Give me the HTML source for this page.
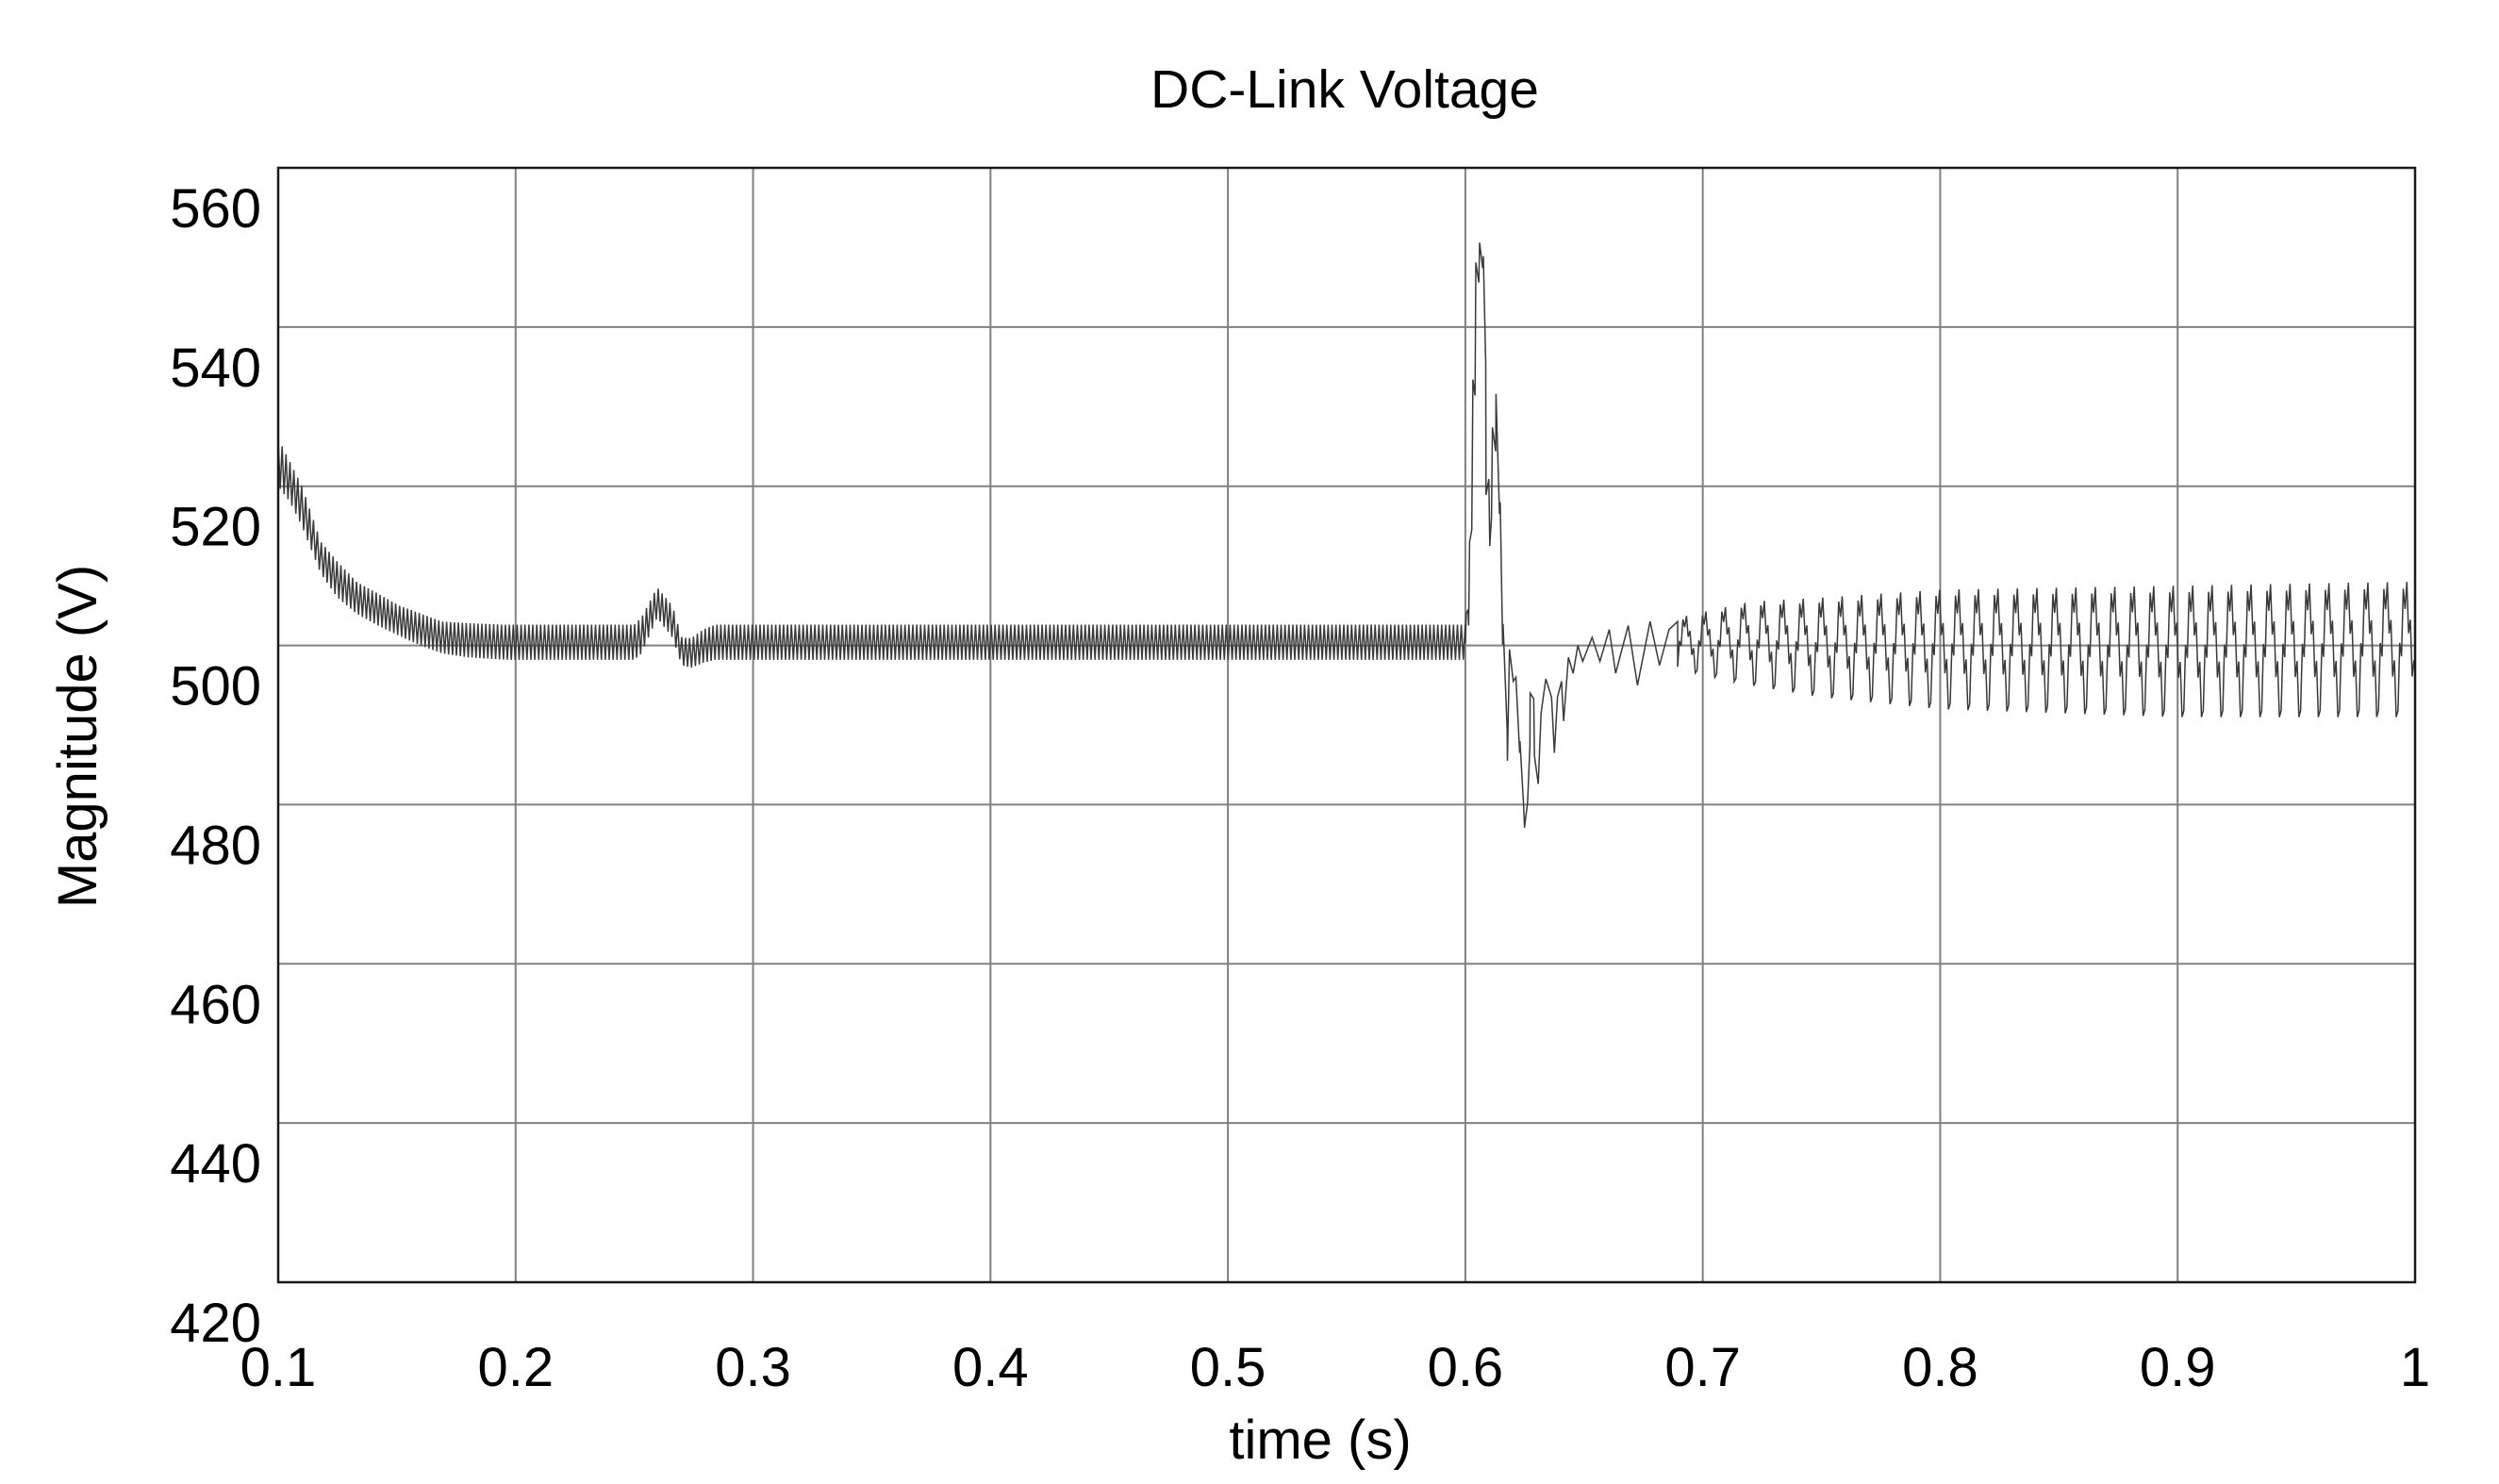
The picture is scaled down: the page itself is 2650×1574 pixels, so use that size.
<!DOCTYPE html>
<html>
<head>
<meta charset="utf-8">
<style>
  html,body{margin:0;padding:0;background:#fff;}
  svg{display:block;}
  text{font-family:"Liberation Sans",Arial,sans-serif;fill:#000;}
</style>
</head>
<body>
<svg id="chart" width="2650" height="1574" viewBox="0 0 2650 1574" xmlns="http://www.w3.org/2000/svg">
  <rect x="0" y="0" width="2650" height="1574" fill="#fff"/>
  <g id="grid"></g>
  <g id="series"></g>
  <rect x="295" y="178" width="2266" height="1182" fill="none" stroke="#1a1a1a" stroke-width="2.5"/>
  <g id="ticks"></g>
  <text x="1426" y="114" font-size="57" text-anchor="middle">DC-Link Voltage</text>
  <text x="1400" y="1547" font-size="58" text-anchor="middle">time (s)</text>
  <text x="0" y="0" font-size="58" text-anchor="middle" transform="translate(102,781) rotate(-90)">Magnitude (V)</text>
</svg>
<script>
// ---- data ----
const xTicks = [0.1,0.2,0.3,0.4,0.5,0.6,0.7,0.8,0.9,1];
const xTickLabels = ["0.1","0.2","0.3","0.4","0.5","0.6","0.7","0.8","0.9","1"];
const yTicks = [420,440,460,480,500,520,540,560];
const yTickLabels = ["420","440","460","480","500","520","540","560"];

// ripple envelope before the step (0.1 - 0.6 s)
const rippleTimes = [0.100,0.105,0.110,0.118,0.125,0.133,0.142,0.151,0.160,0.169,0.180,0.196,0.250,0.253,0.2596,0.266,0.270,0.274,0.279,0.284,0.600];
const rippleHi    = [526.0,523.0,520.0,513.0,510.5,508.0,506.5,505.0,504.0,503.0,502.8,502.6,502.6,503.5,507.3,505.0,501.0,500.9,502.0,502.6,502.6];
const rippleLo    = [520.0,518.0,515.0,509.0,506.0,504.0,502.5,501.2,500.0,499.0,498.5,498.2,498.2,499.0,503.5,501.0,497.5,497.2,497.8,498.2,498.2];
const ripplePeriod = 0.00165;

// transient after step (0.6 - 0.69 s)
const transientT = [0.6000,0.6004,0.6011,0.6014,0.6018,0.6027,0.6032,0.6041,0.6044,0.6057,0.6060,0.6073,0.6076,0.6086,0.6087,0.6099,0.6103,0.6110,0.6114,0.6128,0.6129,0.6144,0.6147,0.6157,0.6159,0.6176,0.6177,0.6186,0.6202,0.6213,0.6229,0.6230,0.6246,0.6249,0.6262,0.6272,0.6273,0.6288,0.6291,0.6307,0.6319,0.6339,0.6363,0.6375,0.6388,0.6405,0.6414,0.6434,0.6454,0.6474,0.6494,0.6534,0.6567,0.6606,0.6633,0.6686,0.6725,0.6778,0.6818,0.6858,0.6894];
const transientV = [500.3,504.0,504.5,502.5,513.0,514.5,533.4,531.4,548.1,545.6,550.6,547.4,548.9,535.4,518.9,520.9,512.5,516.0,527.4,524.4,531.6,516.5,518.0,500.1,502.7,489.5,485.5,499.5,495.5,496.0,486.5,488.0,479.6,477.1,480.3,487.5,494.0,493.3,486.1,482.6,491.5,495.8,493.5,486.5,493.5,495.5,490.5,498.5,496.5,500.0,498.0,501.0,498.0,502.0,496.5,502.5,495.0,503.0,497.5,502.0,503.0];

// 120 Hz oscillation envelope (0.69 - 1.0 s)
const oscTimes = [0.690,0.720,0.750,0.800,0.900,1.000];
const oscHi    = [503.5,505.5,506.0,507.0,507.5,508.0];
const oscLo    = [497.0,495.0,493.5,492.0,491.0,491.0];
const oscPeriod = 0.0082;
const oscShape = [0.05,0.55,0.45,0.95,0.80,1.00,0.62,0.72,0.30,0.42,0.00];

// ---- axes ----
const X0=295, X1=2561, Y0=1360, Y1=178;
function xs(t){ return X0 + (t-0.1)/(1-0.1)*(X1-X0); }
function ys(v){ return Y0 - (v-420)/(560-420)*(Y0-Y1); }
function interp(ts, vs, t){
  if(t<=ts[0]) return vs[0];
  for(let i=1;i<ts.length;i++){ if(t<=ts[i]){ const f=(t-ts[i-1])/(ts[i]-ts[i-1]); return vs[i-1]+f*(vs[i]-vs[i-1]); } }
  return vs[vs.length-1];
}
const NS="http://www.w3.org/2000/svg";
const grid=document.getElementById('grid');
const ticks=document.getElementById('ticks');
const series=document.getElementById('series');

xTicks.forEach((t,i)=>{
  if(i>0 && i<xTicks.length-1){
    const l=document.createElementNS(NS,'line');
    
    
    l.setAttribute('x1',xs(t));l.setAttribute('x2',xs(t));l.setAttribute('y1',Y1);l.setAttribute('y2',Y0);
    l.setAttribute('stroke','#808080');l.setAttribute('stroke-width','2');
    grid.appendChild(l);
  }
  const tx=document.createElementNS(NS,'text');
  
  
  tx.setAttribute('x',xs(t));tx.setAttribute('y',1470);
  tx.setAttribute('font-size','58');tx.setAttribute('text-anchor','middle');
  tx.textContent=xTickLabels[i];
  ticks.appendChild(tx);
});
yTicks.forEach((v,i)=>{
  if(i>0 && i<yTicks.length-1){
    const l=document.createElementNS(NS,'line');
    
    
    l.setAttribute('x1',X0);l.setAttribute('x2',X1);l.setAttribute('y1',ys(v));l.setAttribute('y2',ys(v));
    l.setAttribute('stroke','#808080');l.setAttribute('stroke-width','2');
    grid.appendChild(l);
  }
  const tx=document.createElementNS(NS,'text');
  
  
  tx.setAttribute('x',277);tx.setAttribute('y',ys(v)+42+21);
  tx.setAttribute('font-size','58');tx.setAttribute('text-anchor','end');
  tx.textContent=yTickLabels[i];
  ticks.appendChild(tx);
});

// ---- series ----
const pts=[];
let k=0;
for(let t=0.1;t<0.6;t+=ripplePeriod/2){
  const v = (k%2===0) ? interp(rippleTimes,rippleHi,t) : interp(rippleTimes,rippleLo,t);
  pts.push([t,v]); k++;
}
transientT.forEach((t,i)=>pts.push([t,transientV[i]]));
const tStart = transientT[transientT.length-1];
for(let p=tStart; p<1.0; p+=oscPeriod){
  for(let j=0;j<oscShape.length;j++){
    const t=p+j/(oscShape.length)*oscPeriod;
    if(t>1.0) break;
    const hi=interp(oscTimes,oscHi,t), lo=interp(oscTimes,oscLo,t);
    pts.push([t, lo+oscShape[j]*(hi-lo)]);
  }
}
const path=document.createElementNS(NS,'path');


path.setAttribute('d', pts.map((p,i)=>(i?'L':'M')+xs(p[0]).toFixed(1)+' '+ys(p[1]).toFixed(1)).join(' '));
path.setAttribute('fill','none');path.setAttribute('stroke','#3a3a3a');path.setAttribute('stroke-width','1.5');
path.setAttribute('stroke-linejoin','miter');
series.appendChild(path);
</script>
</body>
</html>
